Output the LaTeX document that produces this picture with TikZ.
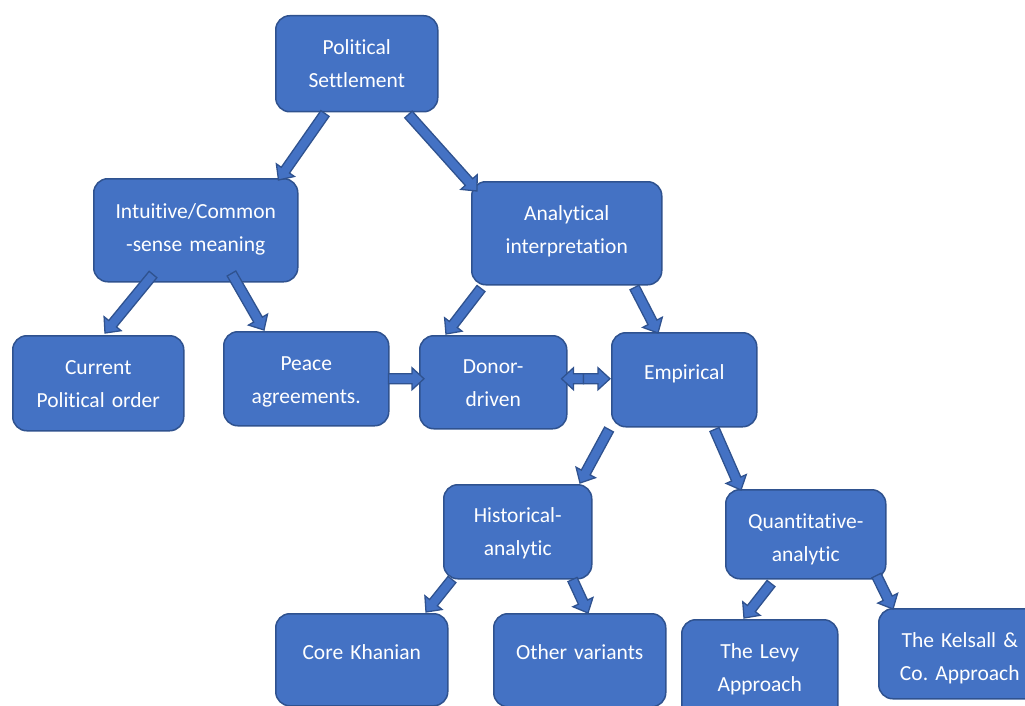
\documentclass[tikz,border=0pt]{standalone}
\usepackage{fontspec}
\setmainfont{Carlito}[Ligatures=NoCommon]
\frenchspacing
\usetikzlibrary{calc}
\definecolor{bfill}{HTML}{4472C4}
\definecolor{bdraw}{HTML}{2F528F}
\tikzset{
  box/.style={rectangle, rounded corners=14pt, fill=bfill, draw=bdraw, line width=1.5pt,
    text=white, inner sep=0pt, align=center, anchor=north west,
    font=\fontsize{21.5}{33}\selectfont},
  blk/.style={fill=bfill, draw=bdraw, line width=1.3pt, line join=miter}
}
\newcommand\barr[2]{%
  \path #1 coordinate (ba-s) #2 coordinate (ba-e);
  \coordinate (ba-m) at ($(ba-e)!12pt!(ba-s)$);
  \draw[blk] ($(ba-s)!5pt!90:(ba-e)$) -- ($(ba-m)!5pt!-90:(ba-s)$) -- ($(ba-m)!11pt!-90:(ba-s)$) -- (ba-e) -- ($(ba-m)!11pt!90:(ba-s)$) -- ($(ba-m)!5pt!90:(ba-s)$) -- ($(ba-s)!5pt!-90:(ba-e)$) -- cycle;}
\begin{document}
\begin{tikzpicture}[x=1pt,y=-1pt]
\useasboundingbox (0,0) rectangle (1025,706);
\clip (0,0) rectangle (1025,706);
\node[box, text width=162pt, text height=39pt, text depth=57pt] (ps) at (275,15) {Political\\Settlement};
\node[box, text width=204pt, text height=40pt, text depth=63pt] (int) at (93,178) {Intuitive/Common\\-sense meaning};
\node[box, text width=190pt, text height=39pt, text depth=64pt] (ana) at (471,181) {Analytical\\interpretation};
\node[box, text width=171pt, text height=39pt, text depth=56pt] (cur) at (12,335) {Current\\Political order};
\node[box, text width=165pt, text height=39pt, text depth=55pt] (peace) at (223,331) {Peace\\agreements.};
\node[box, text width=147pt, text height=38pt, text depth=55pt] (donor) at (419,335) {Donor-\\driven};
\node[box, text width=145pt, text height=47pt, text depth=47pt] (emp) at (611,332) {Empirical};
\node[box, text width=148pt, text height=38pt, text depth=56pt] (hist) at (443,484) {Historical-\\analytic};
\node[box, text width=160pt, text height=39pt, text depth=50pt] (quant) at (725,489) {Quantitative-\\analytic};
\node[box, text width=172pt, text height=46pt, text depth=46pt] (core) at (275,613) {Core Khanian};
\node[box, text width=172pt, text height=46pt, text depth=47pt] (other) at (493,613) {Other variants};
\node[box, text width=156pt, text height=39pt, text depth=62pt] (levy) at (681,619) {The Levy\\Approach};
\node[box, text width=162pt, text height=39pt, text depth=51pt] (kels) at (878,608) {The Kelsall \&\\Co. Approach};
% arrows
\barr{($(ps.south west)+(50,1)$)}{($(int.north east)+(-20,2)$)}
\barr{($(ps.south east)+(-30,2)$)}{($(ana.north west)+(6,10)$)}
\barr{($(int.south west)+(60,-8)$)}{($(cur.north west)+(93,-2)$)}
\barr{($(int.south east)+(-67,-9)$)}{($(peace.north west)+(41,-1)$)}
\barr{($(ana.south west)+(10,3)$)}{($(donor.north west)+(27,-1)$)}
\barr{($(ana.south east)+(-28,2)$)}{($(emp.north west)+(47,1)$)}
\barr{($(peace.east)+(-1,0)$)}{($(donor.west)+(5,-3.5)$)}
\coordinate (dm) at ($(donor.east)+(16,-3.5)$);
\barr{(dm)}{($(donor.east)+(-6,-3.5)$)}
\barr{(dm)}{($(emp.west)+(-1,-1)$)}
\barr{($(emp.south west)+(-2,2)$)}{($(hist.north west)+(137,-1)$)}
\barr{($(emp.south east)+(-43,2)$)}{($(quant.north west)+(16,1)$)}
\barr{($(hist.south west)+(9,0)$)}{($(core.north west)+(151,-1)$)}
\barr{($(hist.south east)+(-20,0)$)}{($(other.north west)+(95,0)$)}
\barr{($(quant.south west)+(46,4)$)}{($(levy.north west)+(63,-1)$)}
\barr{($(quant.south east)+(-10,-4)$)}{($(kels.north west)+(15,1)$)}
\end{tikzpicture}
\end{document}
